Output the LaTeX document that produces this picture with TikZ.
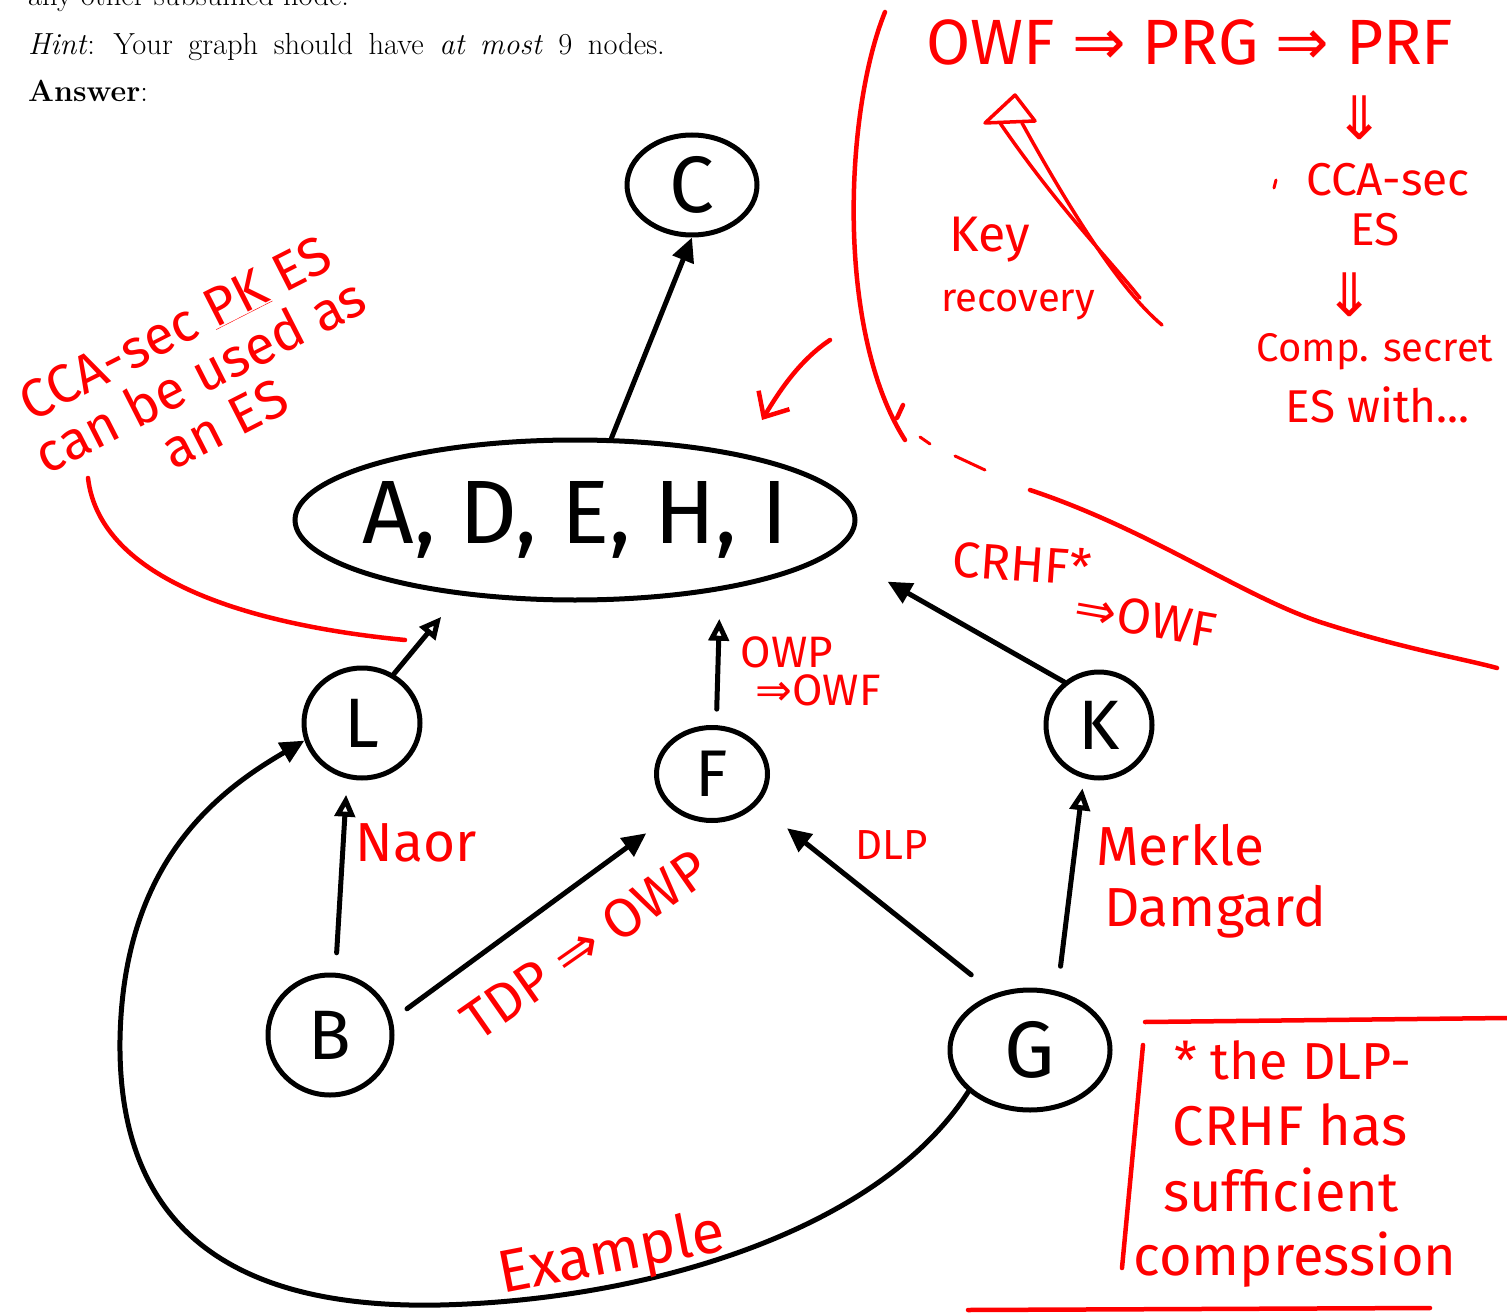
\documentclass[tikz,border=0pt]{standalone}
\usepackage{fontspec}
\newfontfamily\hand{Fira Sans}
\newfontfamily\sym{DejaVu Sans}
\usetikzlibrary{arrows.meta,shapes.geometric}
\newcommand{\myfs}[2]{\fontsize{#1}{#2}\selectfont}
\newcommand{\arr}{{\sym ⇒}}
\tikzset{
 nd/.style={draw, ellipse, line width=5pt, inner sep=0pt},
 edge/.style={line width=5pt, line cap=round, -{Triangle[length=24pt,width=22pt]}},
 oedge/.style={line width=5pt, line cap=round, -{Triangle[open,length=22pt,width=20pt]}},
 rd/.style={draw=red, line width=4.5pt, line cap=round, line join=round},
 lbl/.style={text=red, inner sep=0pt},
 hdr/.style={anchor=base west, inner sep=0pt, font=\myfs{30.5}{36}},
}
\begin{document}
\begin{tikzpicture}[x=1pt,y=-1pt]
\useasboundingbox (0,0) rectangle (1507,1313);
% header text
\node[hdr] (t0) at (28,6) {any other subsumed node.};
\node[hdr] (t1) at (28,55) {\spaceskip=15.5pt\relax\textit{Hint}: Your graph should have \textit{at most} 9 nodes.};
\node[hdr] (t2) at (28,102) {\textbf{Answer}:};

% graph nodes
\node[nd, minimum width=130pt, minimum height=100pt, font=\hand\myfs{80}{80}] (C) at (692,185) {C};
\node[nd, minimum width=560pt, minimum height=160pt, inner xsep=-60pt, font=\hand\myfs{90}{90}] (X) at (575,520) {A, D, E, H, I};
\node[nd, minimum width=116pt, minimum height=110pt, font=\hand\myfs{70}{70}] (L) at (362,723) {L};
\node[nd, minimum width=111pt, minimum height=93pt, font=\hand\myfs{66}{66}] (F) at (712,774) {F};
\node[nd, minimum width=106pt, minimum height=106pt, font=\hand\myfs{70}{70}] (K) at (1099,725) {K};
\node[nd, minimum width=124pt, minimum height=120pt, font=\hand\myfs{70}{70}] (B) at (330,1035) {B};
\node[nd, minimum width=160pt, minimum height=120pt, font=\hand\myfs{80}{80}] (G) at (1030,1050) {G};

% black connectors
\draw[edge] (X.66) -- (C.south);
\draw[oedge, shorten >=28pt] (L.57) -- (X.213);
\draw[oedge, shorten <=16pt, shorten >=28pt] (F.85) -- (X.334);
\draw[edge, shorten >=60pt] (K.129) -- (X.353);
\draw[oedge, shorten <=20pt, shorten >=16pt] (B.85) -- (L.255);
\draw[edge, shorten <=18pt, shorten >=36pt] (B.14) -- (F.226);
\draw[edge, shorten <=30pt, shorten >=38pt] (G.122) -- (F.326);
\draw[oedge, shorten <=25pt, shorten >=10pt] (G.65) -- (K.254);
\draw[edge] (G.214) .. controls (880,1230) and (650,1300) .. (440,1305)
  .. controls (200,1310) and (118,1200) .. (120,1040)
  .. controls (123,860) and (220,790) .. (L.197);

% red edge labels
\node[lbl, font=\hand\myfs{55}{55}] (naor) at (416,843) {Naor};
\node[lbl, font=\hand\myfs{44}{44}] (owp1) at (787,652) {OWP};
\node[lbl, font=\hand\myfs{44}{44}] (owp2) at (818,690) {\arr OWF};
\node[lbl, font=\hand\myfs{42}{42}] (dlp) at (892,845) {DLP};
\node[lbl, font=\hand\myfs{55}{55}] (mer) at (1180,845) {Merkle};
\node[lbl, font=\hand\myfs{55}{55}] (dam) at (1215,912) {Damgard};
\node[lbl, font=\hand\myfs{50}{50}, rotate=-4] (crhf) at (1022,563) {CRHF*};
\node[lbl, font=\hand\myfs{50}{50}, rotate=-10] (crhf2) at (1146,619) {\arr OWF};
\node[lbl, font=\hand\myfs{55}{55}, rotate=35] (tdp) at (585,945) {TDP \arr{} OWP};
\node[lbl, font=\hand\myfs{60}{60}, rotate=11] (ex) at (612,1256) {Example};

% left note
\node[lbl, font=\hand\myfs{54}{54}, align=center, rotate=27] (cca) at (200,376)
  {CCA-sec \underline{PK} ES\\can be used as\\an ES};
\draw[rd] (88,478) .. controls (100,580) and (250,625) .. (405,640);

% top right notes
\node[lbl, font=\hand\myfs{64}{64}] (chain) at (1190,42) {OWF \arr{} PRG \arr{} PRF};
\node[lbl, font=\sym\myfs{60}{60}] (d1) at (1360,118) {⇓};
\draw[rd, line width=3pt] (1276,180) -- (1274,188);
\node[lbl, font=\hand\myfs{46}{46}] (cs) at (1388,180) {CCA-sec};
\node[lbl, font=\hand\myfs{46}{46}] (es) at (1375,230) {ES};
\node[lbl, font=\sym\myfs{60}{60}] (d2) at (1350,295) {⇓};
\node[lbl, font=\hand\myfs{40}{40}] (cp) at (1375,352) {Comp. secret};
\node[lbl, font=\hand\myfs{46}{46}] (ew) at (1378,405) {ES with...};
\node[lbl, font=\hand\myfs{50}{50}] (key) at (990,240) {Key};
\node[lbl, font=\hand\myfs{40}{40}] (rec) at (1018,305) {recovery};
% hollow key recovery arrow
\draw[rd, line width=3.5pt] (1015,95) -- (985,123) -- (1035,121) -- cycle;
\draw[rd, line width=3.5pt] (1000,123) .. controls (1060,210) and (1110,260) .. (1140,298);
\draw[rd, line width=3.5pt] (1022,123) .. controls (1070,210) and (1120,290) .. (1162,325);

% separator curve
\draw[rd] (885,12) .. controls (845,110) and (835,330) .. (905,440);
\draw[rd] (897,418) -- (903,405);
\draw[rd, line width=3pt] (920,437) -- (930,444);
\draw[rd, line width=3pt] (955,456) -- (985,470);
\draw[rd] (1030,490) .. controls (1150,530) and (1240,595) .. (1320,622)
  .. controls (1400,648) and (1460,658) .. (1497,668);
% red arrow toward ADEHI
\draw[rd, -{Straight Barb[length=20pt,width=36pt]}] (830,340) .. controls (800,360) and (780,390) .. (762,420);

% footnote box
\draw[rd] (1145,1022) -- (1507,1018);
\draw[rd] (1143,1045) -- (1122,1268);
\draw[rd] (968,1310) -- (1430,1308);
\node[lbl, font=\hand\myfs{52}{52}] (n1) at (1293,1060) {* the DLP-};
\node[lbl, font=\hand\myfs{56}{56}] (n2) at (1290,1125) {CRHF has};
\node[lbl, font=\hand\myfs{56}{56}] (n3) at (1281,1190) {sufficient};
\node[lbl, font=\hand\myfs{56}{56}] (n4) at (1295,1260) {compression};
\end{tikzpicture}
\end{document}
